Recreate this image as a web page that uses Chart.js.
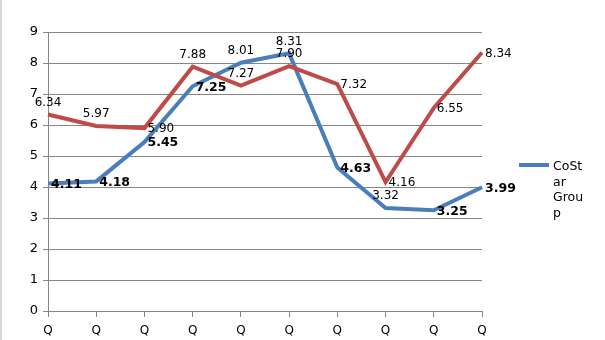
<!DOCTYPE html>
<html>
<head>
<meta charset="utf-8">
<script src="https://cdn.jsdelivr.net/npm/chart.js@4.4.1/dist/chart.umd.min.js"></script>
<style>
    html, body { margin: 0; padding: 0; background: #fff; }
    #wrap { width: 605px; height: 340px; position: relative; }
    #wrap::before { content: ""; position: absolute; left: 0; top: 0; width: 2px; height: 340px; background: #d9d9d9; }
</style>
</head>
<body>
<div id="wrap"><canvas id="myChart" width="605" height="340"></canvas></div>
<script>
const quarters = ['Q', 'Q', 'Q', 'Q', 'Q', 'Q', 'Q', 'Q', 'Q', 'Q'];
const costarName = 'CoStar Group';
const costarValues = [4.11, 4.18, 5.45, 7.25, 8.01, 8.31, 4.63, 3.32, 3.25, 3.99];
const otherName = '';
const otherValues = [6.34, 5.97, 5.90, 7.88, 7.27, 7.90, 7.32, 4.16, 6.55, 8.34];
const yTicks = [0, 1, 2, 3, 4, 5, 6, 7, 8, 9];

const FONT = "'DejaVu Sans', sans-serif";

// value labels next to each point: 'a' = above, 'r' = right
const pointLabels = {
    id: 'pointLabels',
    afterDatasetsDraw(chart) {
        const ctx = chart.ctx;
        ctx.save();
        ctx.fillStyle = '#000';
        chart.data.datasets.forEach((ds, di) => {
            const meta = chart.getDatasetMeta(di);
            meta.data.forEach((pt, i) => {
                const txt = ds.data[i].toFixed(2);
                const place = ds.labelPlace[i];
                if (place === 'a') {
                    ctx.font = '12px ' + FONT;
                    ctx.textAlign = 'center';
                    ctx.textBaseline = 'middle';
                    ctx.fillText(txt, pt.x, pt.y - 12);
                } else {
                    ctx.font = (ds.labelBold[i] ? 'bold 12.5px ' : '12px ') + FONT;
                    ctx.textAlign = 'left';
                    ctx.textBaseline = 'middle';
                    ctx.fillText(txt, pt.x + 3, pt.y + 1);
                }
            });
        });
        ctx.restore();
    }
};

// wrap by words, breaking a word by characters when it is too long
const wrapText = (ctx, text, maxW) => {
    const lines = [];
    let cur = '';
    text.split(' ').forEach(word => {
        const tryLine = cur ? cur + ' ' + word : word;
        if (ctx.measureText(tryLine).width <= maxW) {
            cur = tryLine;
            return;
        }
        if (cur) lines.push(cur);
        cur = '';
        for (const ch of word) {
            if (ctx.measureText(cur + ch).width > maxW && cur) {
                lines.push(cur);
                cur = ch;
            } else {
                cur += ch;
            }
        }
    });
    if (cur) lines.push(cur);
    return lines;
};

// legend entry on the right, name in a narrow column
const sideLegend = {
    id: 'sideLegend',
    afterDraw(chart) {
        const ctx = chart.ctx;
        const ds = chart.data.datasets[0];
        ctx.save();
        ctx.strokeStyle = ds.borderColor;
        ctx.lineWidth = 4;
        ctx.beginPath();
        ctx.moveTo(519, 165);
        ctx.lineTo(549, 165);
        ctx.stroke();

        ctx.font = '12.5px ' + FONT;
        ctx.fillStyle = '#000';
        ctx.textAlign = 'left';
        ctx.textBaseline = 'middle';
        wrapText(ctx, ds.label, 33).forEach((l, i) => ctx.fillText(l, 553, 167 + i * 15.5));
        ctx.restore();
    }
};

new Chart(document.getElementById('myChart'), {
    type: 'line',
    data: {
        labels: quarters,
        datasets: [{
            label: costarName,
            data: costarValues,
            borderColor: '#4a7ebb',
            borderWidth: 4,
            pointRadius: 0,
            tension: 0,
            order: 1,
            labelPlace: ['r', 'r', 'r', 'r', 'a', 'a', 'r', 'a', 'r', 'r'],
            labelBold: [true, true, true, true, false, false, true, false, true, true]
        }, {
            label: otherName,
            data: otherValues,
            borderColor: '#be4b48',
            borderWidth: 4,
            pointRadius: 0,
            tension: 0,
            order: 0,
            labelPlace: ['a', 'a', 'r', 'a', 'a', 'a', 'r', 'r', 'r', 'r'],
            labelBold: [false, false, false, false, false, false, false, false, false, false]
        }]
    },
    options: {
        responsive: false,
        animation: false,
        layout: { padding: { top: 32, right: 123, left: 0, bottom: 0 } },
        plugins: {
            legend: { display: false },
            tooltip: { enabled: false }
        },
        scales: {
            x: {
                offset: false,
                grid: { drawOnChartArea: false, drawTicks: true, tickLength: 6, color: '#868686' },
                border: { color: '#868686' },
                ticks: { color: '#000', maxRotation: 0, autoSkip: false, padding: 7, font: { family: FONT, size: 12 } },
                afterFit: (scale) => { scale.height = 29; }
            },
            y: {
                min: yTicks[0],
                max: yTicks[yTicks.length - 1],
                afterBuildTicks: (scale) => { scale.ticks = yTicks.map(v => ({ value: v })); },
                grid: { color: '#868686', tickLength: 5 },
                border: { color: '#868686' },
                ticks: { color: '#000', padding: 5, font: { family: FONT, size: 13 } },
                afterFit: (scale) => { scale.width = 48; }
            }
        }
    },
    plugins: [pointLabels, sideLegend]
});
</script>
</body>
</html>
